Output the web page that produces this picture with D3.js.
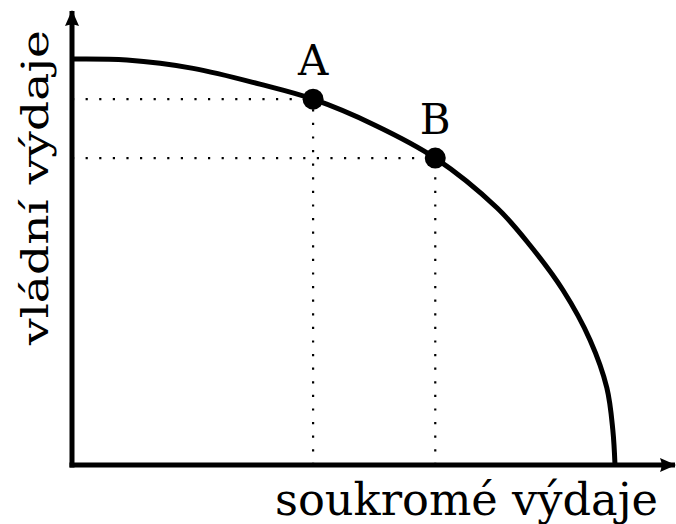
<!DOCTYPE html>
<html>
<head>
<meta charset="utf-8">
<script src="https://cdn.jsdelivr.net/npm/d3@7"></script>
<style>
body { margin: 0; background: #fff; }
text { font-family: "DejaVu Serif", serif; fill: #000; }
</style>
</head>
<body>
<div id="container"></div>
<script>
// frontier (private spending, government spending)
var frontierX = [0, 10.1, 22.3, 34.6, 44.4, 55.8, 66.9, 78.3, 84.3, 90.4, 95.4, 98.5, 99.6, 100];
var frontierY = [100, 99.75, 97.7, 93.8, 90.1, 83.7, 75.6, 63.3, 54.2, 43.1, 30.8, 19.0, 8.6, 0];
var pointNames = ["A", "B"];
var pointX = [44.4, 66.9];
var pointY = [90.1, 75.6];
var xLabel = "soukromé výdaje";
var yLabel = "vládní výdaje";

var W = 676, H = 524;
var svg = d3.select("#container").append("svg")
			.attr("width", W)
			.attr("height", H);

var x = d3.scaleLinear().domain([0, 100]).range([72, 615]);
var y = d3.scaleLinear().domain([0, 100]).range([465, 59]);

var defs = svg.append("defs");
defs.append("marker").attr("id", "arr")
	.attr("viewBox", "0 0 16 14")
	.attr("refX", 15).attr("refY", 7)
	.attr("markerWidth", 16).attr("markerHeight", 14)
	.attr("markerUnits", "userSpaceOnUse")
	.attr("orient", "auto")
	.append("path").attr("d", "M0,0 L16,7 L0,14 Q3,7 0,0 Z").attr("fill", "#000");

// dotted guides
pointX.forEach(function(px, i) {
	svg.append("line")
		.attr("x1", x(0)).attr("x2", x(px))
		.attr("y1", y(pointY[i])).attr("y2", y(pointY[i]))
		.attr("stroke", "#000").attr("stroke-width", 2.2)
		.attr("stroke-dasharray", "2.2,11.4");
	svg.append("line")
		.attr("x1", x(px)).attr("x2", x(px))
		.attr("y1", y(0)).attr("y2", y(pointY[i]))
		.attr("stroke", "#000").attr("stroke-width", 2.2)
		.attr("stroke-dasharray", "2.2,11.4");
});

// axes
svg.append("line").attr("x1", x(0)).attr("y1", y(0) + 2.5).attr("x2", x(0)).attr("y2", 11)
	.attr("stroke", "#000").attr("stroke-width", 5).attr("marker-end", "url(#arr)");
svg.append("line").attr("x1", x(0) - 2.5).attr("y1", y(0)).attr("x2", 675).attr("y2", y(0))
	.attr("stroke", "#000").attr("stroke-width", 5).attr("marker-end", "url(#arr)");

// frontier
var pts = frontierX.map(function(v, i) { return [v, frontierY[i]]; });
var line = d3.line()
	.x(function(d) { return x(d[0]); })
	.y(function(d) { return y(d[1]); })
	.curve(d3.curveCatmullRom.alpha(0.5));
svg.append("path").attr("d", line(pts))
	.attr("fill", "none").attr("stroke", "#000").attr("stroke-width", 5);

// points
pointX.forEach(function(px, i) {
	svg.append("circle").attr("cx", x(px)).attr("cy", y(pointY[i])).attr("r", 10.5).attr("fill", "#000");
	svg.append("text").attr("x", x(px)).attr("y", y(pointY[i]) - 24)
		.attr("text-anchor", "middle").attr("font-size", 42).text(pointNames[i]);
});

svg.append("text").attr("x", 275).attr("y", 515)
	.attr("font-size", 44).attr("textLength", 383).attr("lengthAdjust", "spacingAndGlyphs")
	.text(xLabel);
svg.append("text").attr("transform", "translate(48,345) rotate(-90)")
	.attr("font-size", 38).attr("textLength", 315).attr("lengthAdjust", "spacingAndGlyphs")
	.text(yLabel);
</script>
</body>
</html>
